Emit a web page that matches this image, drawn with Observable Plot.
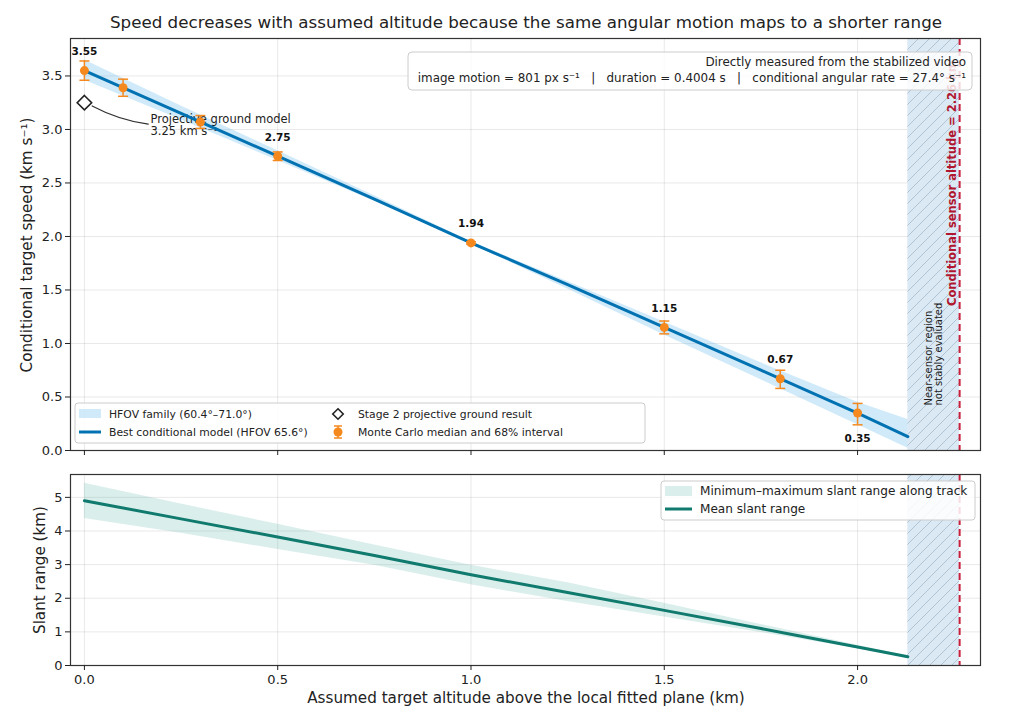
<!DOCTYPE html>
<html><head><meta charset="utf-8">
<script src="https://cdn.jsdelivr.net/npm/d3@7"></script>
<script src="https://cdn.jsdelivr.net/npm/@observablehq/plot@0.6"></script>
<style>
body{margin:0;background:#fff;font-family:"DejaVu Sans",sans-serif;}
#wrap{position:relative;width:1024px;height:721px;overflow:hidden;}
#wrap > svg{position:absolute;left:0;}
</style></head><body>
<svg width="0" height="0" style="position:absolute">
  <defs>
    <pattern id="hatch" patternUnits="userSpaceOnUse" width="11" height="11">
      <rect width="11" height="11" fill="#dbe9f4"></rect>
      <path d="M-1,12 L12,-1 M-6,6 L6,-6 M5,17 L17,5" stroke="#9fb4c6" stroke-width="0.7"></path>
    </pattern>
  </defs>
</svg>
<div id="wrap"></div>
<script>
// ---------- data ----------
const altGrid   = [0, 0.25, 0.5, 0.75, 1.0, 1.25, 1.5, 1.75, 2.0, 2.13];
const bestSpeed = [3.55, 3.15, 2.75, 2.35, 1.94, 1.55, 1.15, 0.75, 0.35, 0.13];
const hfovLow   = [3.46, 3.09, 2.71, 2.33, 1.93, 1.51, 1.08, 0.66, 0.24, 0.02];
const hfovHigh  = [3.65, 3.22, 2.80, 2.38, 1.95, 1.58, 1.20, 0.82, 0.45, 0.29];

const mcAlt    = [0, 0.1, 0.3, 0.5, 1.0, 1.5, 1.8, 2.0];
const mcMedian = [3.55, 3.39, 3.07, 2.75, 1.94, 1.15, 0.67, 0.35];
const mcLow    = [3.46, 3.31, 3.01, 2.71, 1.93, 1.09, 0.58, 0.24];
const mcHigh   = [3.64, 3.47, 3.13, 2.79, 1.95, 1.21, 0.75, 0.44];
const mcLabel  = ["above", "", "", "above", "above", "above", "above", "below"];

const groundAlt = 0, groundSpeed = 3.25;

const slantMean = [4.90, 4.36, 3.82, 3.27, 2.70, 2.17, 1.64, 1.10, 0.55, 0.26];
const slantMin  = [4.37, 3.93, 3.45, 2.98, 2.40, 1.90, 1.44, 0.98, 0.50, 0.24];
const slantMax  = [5.42, 4.80, 4.20, 3.58, 2.98, 2.46, 1.85, 1.22, 0.60, 0.28];

const hatchStart = 2.13, sensorAlt = 2.264;
const xTicks = [0, 0.5, 1.0, 1.5, 2.0];
const speedTicks = [0, 0.5, 1.0, 1.5, 2.0, 2.5, 3.0, 3.5];
const rangeTicks = [0, 1, 2, 3, 4, 5];

// ---------- tables ----------
const curve = altGrid.map((a, i) => ({alt: a, best: bestSpeed[i], lo: hfovLow[i], hi: hfovHigh[i],
  mean: slantMean[i], smin: slantMin[i], smax: slantMax[i]}));
const mc = mcAlt.map((a, i) => ({alt: a, med: mcMedian[i], lo: mcLow[i], hi: mcHigh[i], lab: mcLabel[i]}));

const BLUE = "#0072B2", ORANGE = "#f5891e", TEAL = "#0f7a6d", RED = "#c8203c", DARKRED = "#b0162f";
const FONT = "DejaVu Sans";
const xDomain = [-0.036, 2.318];
const capSymbol = {draw(ctx, size) { const r = Math.sqrt(size / Math.PI); ctx.moveTo(-r, 0); ctx.lineTo(r, 0); }};
const fmt2 = d3.format(".2f");

const wrap = document.getElementById("wrap");

const topPlot = Plot.plot({
  width: 1024, height: 462,
  marginLeft: 70, marginRight: 44, marginTop: 38, marginBottom: 12,
  style: {fontFamily: FONT, fontSize: "13px", color: "#222", background: "transparent"},
  x: {domain: xDomain},
  y: {domain: [0, 3.85]},
  marks: [
    Plot.gridX(xTicks, {stroke: "#000", strokeOpacity: 0.09}),
    Plot.gridY(speedTicks, {stroke: "#000", strokeOpacity: 0.09}),
    Plot.rect([0], {x1: () => hatchStart, x2: () => sensorAlt, fill: "url(#hatch)"}),
    Plot.areaY(curve, {x: "alt", y1: "lo", y2: "hi", fill: "#56B4E9", fillOpacity: 0.28}),
    Plot.text([0], {x: () => (hatchStart + sensorAlt) / 2, y: () => 0.42,
      text: () => "Near-sensor region\nnot stably evaluated",
      rotate: -90, textAnchor: "start", lineAnchor: "middle", fontSize: 10, fill: "#222"}),
    Plot.ruleX([sensorAlt], {stroke: RED, strokeWidth: 2, strokeDasharray: "7,4"}),
    Plot.text([sensorAlt], {x: d => d, y: () => 1.35, text: d => `Conditional sensor altitude = ${d.toFixed(2)} km`,
      rotate: -90, textAnchor: "start", lineAnchor: "bottom", dx: -4, fontSize: 11.5, fontWeight: "bold", fill: DARKRED}),
    Plot.arrow([0], {x1: () => groundAlt + 0.02, y1: () => groundSpeed - 0.03, x2: () => 0.165, y2: () => 3.05,
      bend: -10, headLength: 0, stroke: "#333", strokeWidth: 1.2}),
    Plot.text([groundSpeed], {x: () => 0.171, y: () => 3.04, text: d => `Projective ground model\n${d.toFixed(2)} km s⁻¹`,
      textAnchor: "start", lineAnchor: "middle", fontSize: 11.5, fill: "#222"}),
    Plot.line(curve, {x: "alt", y: "best", stroke: BLUE, strokeWidth: 3}),
    Plot.ruleX(mc, {x: "alt", y1: "lo", y2: "hi", stroke: ORANGE, strokeWidth: 1.5}),
    Plot.dot(mc, {x: "alt", y: "lo", symbol: capSymbol, r: 5, stroke: ORANGE, strokeWidth: 1.5}),
    Plot.dot(mc, {x: "alt", y: "hi", symbol: capSymbol, r: 5, stroke: ORANGE, strokeWidth: 1.5}),
    Plot.dot(mc, {x: "alt", y: "med", r: 4.5, fill: ORANGE}),
    Plot.dot([groundSpeed], {x: () => groundAlt, y: d => d, symbol: "diamond2", r: 6.5, stroke: "#222", strokeWidth: 1.6, fill: "white"}),
    Plot.text(mc.filter(d => d.lab === "above"), {x: "alt", y: "med", text: d => fmt2(d.med), dy: -19,
      fontSize: 10.5, fontWeight: "bold", fill: "#111"}),
    Plot.text(mc.filter(d => d.lab === "below"), {x: "alt", y: "med", text: d => fmt2(d.med), dy: 26,
      fontSize: 10.5, fontWeight: "bold", fill: "#111"}),
    Plot.frame({stroke: "#333", strokeWidth: 1.2}),
    Plot.axisY(speedTicks, {tickFormat: d3.format(".1f"), tickSize: 5, tickPadding: 3, label: null}),
    Plot.axisX(xTicks, {tickFormat: () => "", tickSize: 5, label: null})
  ]
});
topPlot.style.top = "0px";
wrap.appendChild(topPlot);

const botPlot = Plot.plot({
  width: 1024, height: 259,
  marginLeft: 70, marginRight: 44, marginTop: 12, marginBottom: 56,
  style: {fontFamily: FONT, fontSize: "13px", color: "#222", background: "transparent"},
  x: {domain: xDomain},
  y: {domain: [0, 5.68]},
  marks: [
    Plot.gridX(xTicks, {stroke: "#000", strokeOpacity: 0.09}),
    Plot.gridY(rangeTicks, {stroke: "#000", strokeOpacity: 0.09}),
    Plot.rect([0], {x1: () => hatchStart, x2: () => sensorAlt, fill: "url(#hatch)"}),
    Plot.ruleX([sensorAlt], {stroke: RED, strokeWidth: 2, strokeDasharray: "7,4"}),
    Plot.areaY(curve, {x: "alt", y1: "smin", y2: "smax", fill: "#45a899", fillOpacity: 0.2}),
    Plot.line(curve, {x: "alt", y: "mean", stroke: TEAL, strokeWidth: 3}),
    Plot.frame({stroke: "#333", strokeWidth: 1.2}),
    Plot.axisY(rangeTicks, {tickFormat: d3.format("d"), tickSize: 5, tickPadding: 3, label: null}),
    Plot.axisX(xTicks, {tickFormat: d3.format(".1f"), tickSize: 5, tickPadding: 4, label: null})
  ]
});
botPlot.style.top = "462px";
wrap.appendChild(botPlot);

// ---------- overlay: title, labels, legends, info box ----------
const ov = d3.select(wrap).append("svg").attr("width", 1024).attr("height", 721)
  .style("position", "absolute").style("left", "0px").style("top", "0px")
  .style("font-family", FONT).style("pointer-events", "none");

ov.append("text").attr("x", 526).attr("y", 22).attr("text-anchor", "middle").attr("dominant-baseline", "central")
  .attr("font-size", 16.7).attr("fill", "#222")
  .text("Speed decreases with assumed altitude because the same angular motion maps to a shorter range");

ov.append("text").attr("transform", "translate(27,245) rotate(-90)").attr("text-anchor", "middle")
  .attr("dominant-baseline", "central").attr("font-size", 15.2).attr("fill", "#222")
  .text("Conditional target speed (km s⁻¹)");
ov.append("text").attr("transform", "translate(40,570) rotate(-90)").attr("text-anchor", "middle")
  .attr("dominant-baseline", "central").attr("font-size", 15.2).attr("fill", "#222")
  .text("Slant range (km)");
ov.append("text").attr("x", 526).attr("y", 698).attr("text-anchor", "middle")
  .attr("dominant-baseline", "central").attr("font-size", 15.2).attr("fill", "#222")
  .text("Assumed target altitude above the local fitted plane (km)");

// info box
const ib = ov.append("g").attr("transform", "translate(408,52)");
ib.append("rect").attr("width", 564).attr("height", 38).attr("rx", 4)
  .attr("fill", "white").attr("fill-opacity", 0.82).attr("stroke", "#ccc");
ib.append("text").attr("x", 558).attr("y", 10).attr("text-anchor", "end").attr("dominant-baseline", "central")
  .attr("font-size", 11.9).attr("fill", "#222").text("Directly measured from the stabilized video");
ib.append("text").attr("x", 558).attr("y", 25.5).attr("text-anchor", "end").attr("dominant-baseline", "central")
  .attr("font-size", 11.9).attr("fill", "#222").style("white-space", "pre")
  .text("image motion = 801 px s⁻¹   |   duration = 0.4004 s   |   conditional angular rate = 27.4° s⁻¹");

const ltxt = (g, x, y, s, fs) => g.append("text").attr("x", x).attr("y", y).attr("dominant-baseline", "central")
  .attr("font-size", fs).attr("fill", "#222").text(s);

// top legend
const lg = ov.append("g").attr("transform", "translate(75,403)");
lg.append("rect").attr("width", 570).attr("height", 40).attr("rx", 3)
  .attr("fill", "white").attr("fill-opacity", 0.85).attr("stroke", "#ccc");
lg.append("rect").attr("x", 4).attr("y", 6).attr("width", 22).attr("height", 9)
  .attr("fill", "#56B4E9").attr("fill-opacity", 0.28);
lg.append("line").attr("x1", 4).attr("x2", 26).attr("y1", 29).attr("y2", 29).attr("stroke", BLUE).attr("stroke-width", 3);
ltxt(lg, 34, 11, "HFOV family (60.4°–71.0°)", 10.8);
ltxt(lg, 34, 29, "Best conditional model (HFOV 65.6°)", 10.8);
lg.append("path").attr("d", d3.symbol(d3.symbolDiamond2, 70)()).attr("transform", "translate(263,11)")
  .attr("fill", "white").attr("stroke", "#222").attr("stroke-width", 1.6);
lg.append("line").attr("x1", 263).attr("x2", 263).attr("y1", 23).attr("y2", 35).attr("stroke", ORANGE).attr("stroke-width", 1.5);
lg.append("line").attr("x1", 259).attr("x2", 267).attr("y1", 23).attr("y2", 23).attr("stroke", ORANGE).attr("stroke-width", 1.5);
lg.append("line").attr("x1", 259).attr("x2", 267).attr("y1", 35).attr("y2", 35).attr("stroke", ORANGE).attr("stroke-width", 1.5);
lg.append("circle").attr("cx", 263).attr("cy", 29).attr("r", 4.5).attr("fill", ORANGE);
ltxt(lg, 283, 11, "Stage 2 projective ground result", 10.8);
ltxt(lg, 283, 29, "Monte Carlo median and 68% interval", 10.8);

// bottom legend
const lb = ov.append("g").attr("transform", "translate(661,481)");
lb.append("rect").attr("width", 314).attr("height", 39).attr("rx", 3)
  .attr("fill", "white").attr("fill-opacity", 0.85).attr("stroke", "#ccc");
lb.append("rect").attr("x", 4).attr("y", 5).attr("width", 27).attr("height", 10)
  .attr("fill", "#45a899").attr("fill-opacity", 0.2);
lb.append("line").attr("x1", 4).attr("x2", 31).attr("y1", 28).attr("y2", 28).attr("stroke", TEAL).attr("stroke-width", 3);
ltxt(lb, 39, 10, "Minimum–maximum slant range along track", 12.1);
ltxt(lb, 39, 28, "Mean slant range", 12.1);
</script></body></html>
